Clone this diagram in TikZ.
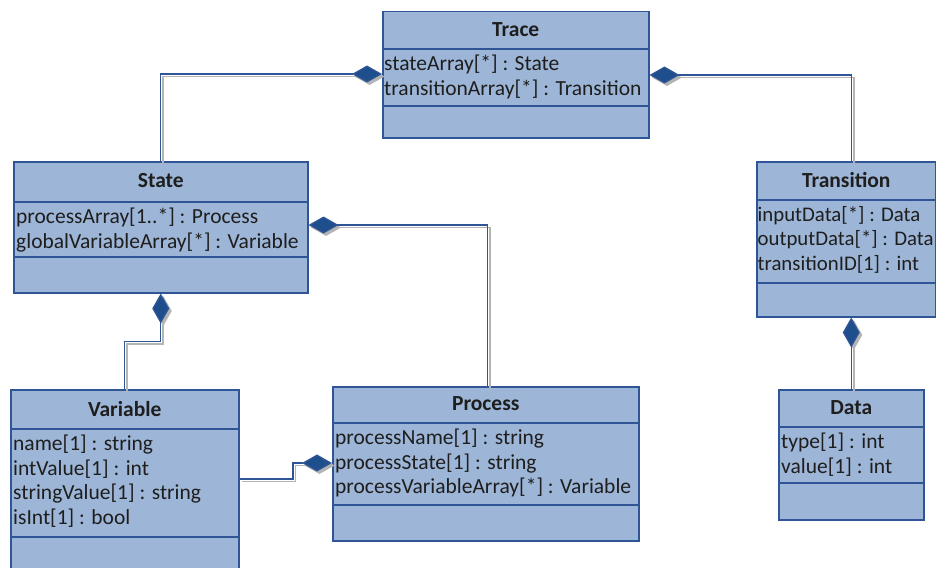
\documentclass[tikz,border=0pt]{standalone}
\usepackage{fontspec}
\setmainfont{Carlito}
\usetikzlibrary{arrows.meta}

\definecolor{boxfill}{RGB}{157,181,214}
\definecolor{boxline}{RGB}{47,85,151}
\definecolor{diafill}{RGB}{31,78,140}
\definecolor{txt}{RGB}{30,30,30}
\definecolor{shade}{RGB}{180,180,180}

\begin{document}
\begin{tikzpicture}[x=1pt, y=-1pt,
  classbox/.style={draw=boxline, fill=boxfill, line width=1.5pt, anchor=north west, inner sep=0pt},
  divider/.style={draw=boxline, line width=1.5pt},
  title/.style={font=\fontsize{21.5}{24}\selectfont\bfseries, text=txt, inner sep=0pt},
  attrs/.style={font=\fontsize{21.5}{24.5}\selectfont, text=txt, align=left, anchor=north west, inner sep=0pt},
  comp/.style={draw=boxline, line width=1.3pt, {Diamond[length=30pt,width=17pt,fill=diafill]}-,
    preaction={draw=shade, line width=1.8pt, {Diamond[length=30pt,width=17pt,fill=shade]}-,
      transform canvas={shift={(2.5pt,-2.5pt)}}}}
]
  \clip (0,0) rectangle (936,567);

  % Trace
  \node[classbox, minimum width=266, minimum height=126] (trace) at (382,11) {};
  \draw[divider] ([yshift=-38pt]trace.north west) -- ([yshift=-38pt]trace.north east);
  \draw[divider] ([yshift=-95pt]trace.north west) -- ([yshift=-95pt]trace.north east);
  \node[title] (traceName) at ([yshift=-19pt]trace.north) {Trace};
  \node[attrs] (traceAttr) at ([xshift=2pt,yshift=-44pt]trace.north west)
    {stateArray[*] : State\\transitionArray[*] : Transition};

  % State
  \node[classbox, minimum width=294, minimum height=131] (state) at (13,161) {};
  \draw[divider] ([yshift=-41pt]state.north west) -- ([yshift=-41pt]state.north east);
  \draw[divider] ([yshift=-96pt]state.north west) -- ([yshift=-96pt]state.north east);
  \node[title] (stateName) at ([yshift=-20pt]state.north) {State};
  \node[attrs] (stateAttr) at ([xshift=3pt,yshift=-47pt]state.north west)
    {processArray[1..*] : Process\\globalVariableArray[*] : Variable};

  % Transition
  \node[classbox, minimum width=179, minimum height=155] (transition) at (756,161) {};
  \draw[divider] ([yshift=-39pt]transition.north west) -- ([yshift=-39pt]transition.north east);
  \draw[divider] ([yshift=-122pt]transition.north west) -- ([yshift=-122pt]transition.north east);
  \node[title] (transitionName) at ([yshift=-19pt]transition.north) {Transition};
  \node[attrs, font=\fontsize{20.8}{24.5}\selectfont] (transitionAttr) at ([xshift=1.5pt,yshift=-45pt]transition.north west)
    {inputData[*] : Data\\outputData[*] : Data\\transitionID[1] : int};

  % Variable (runs off the bottom edge)
  \node[classbox, minimum width=228, minimum height=240] (variable) at (10,389) {};
  \draw[divider] ([yshift=-40pt]variable.north west) -- ([yshift=-40pt]variable.north east);
  \draw[divider] ([yshift=-148pt]variable.north west) -- ([yshift=-148pt]variable.north east);
  \node[title] (variableName) at ([yshift=-20pt]variable.north) {Variable};
  \node[attrs] (variableAttr) at ([xshift=3pt,yshift=-46pt]variable.north west)
    {name[1] : string\\intValue[1] : int\\stringValue[1] : string\\isInt[1] : bool};

  % Process
  \node[classbox, minimum width=306, minimum height=154] (process) at (332,386) {};
  \draw[divider] ([yshift=-37pt]process.north west) -- ([yshift=-37pt]process.north east);
  \draw[divider] ([yshift=-119pt]process.north west) -- ([yshift=-119pt]process.north east);
  \node[title] (processName) at ([yshift=-18pt]process.north) {Process};
  \node[attrs] (processAttr) at ([xshift=3pt,yshift=-43pt]process.north west)
    {processName[1] : string\\processState[1] : string\\processVariableArray[*] : Variable};

  % Data
  \node[classbox, minimum width=145, minimum height=130] (data) at (778,389) {};
  \draw[divider] ([yshift=-38pt]data.north west) -- ([yshift=-38pt]data.north east);
  \draw[divider] ([yshift=-94pt]data.north west) -- ([yshift=-94pt]data.north east);
  \node[title] (dataName) at ([yshift=-19pt]data.north) {Data};
  \node[attrs] (dataAttr) at ([xshift=3pt,yshift=-44pt]data.north west)
    {type[1] : int\\value[1] : int};

  % Compositions
  \draw[comp] ([yshift=-63pt]trace.north west) -| (state.north);
  \draw[comp] ([yshift=-64pt]trace.north east) -| ([xshift=5pt]transition.north);
  \draw[comp] ([yshift=-64pt]state.north east) -| ([xshift=2pt]process.north);
  \draw[comp] (state.south) -- ([yshift=-48pt]state.south) -| (variable.north);
  \draw[comp] ([yshift=-77pt]process.north west) -- ++(-39,0) |- ([yshift=-90pt]variable.north east);
  \draw[comp] (data.north |- transition.south) -- (data.north);
\end{tikzpicture}
\end{document}
